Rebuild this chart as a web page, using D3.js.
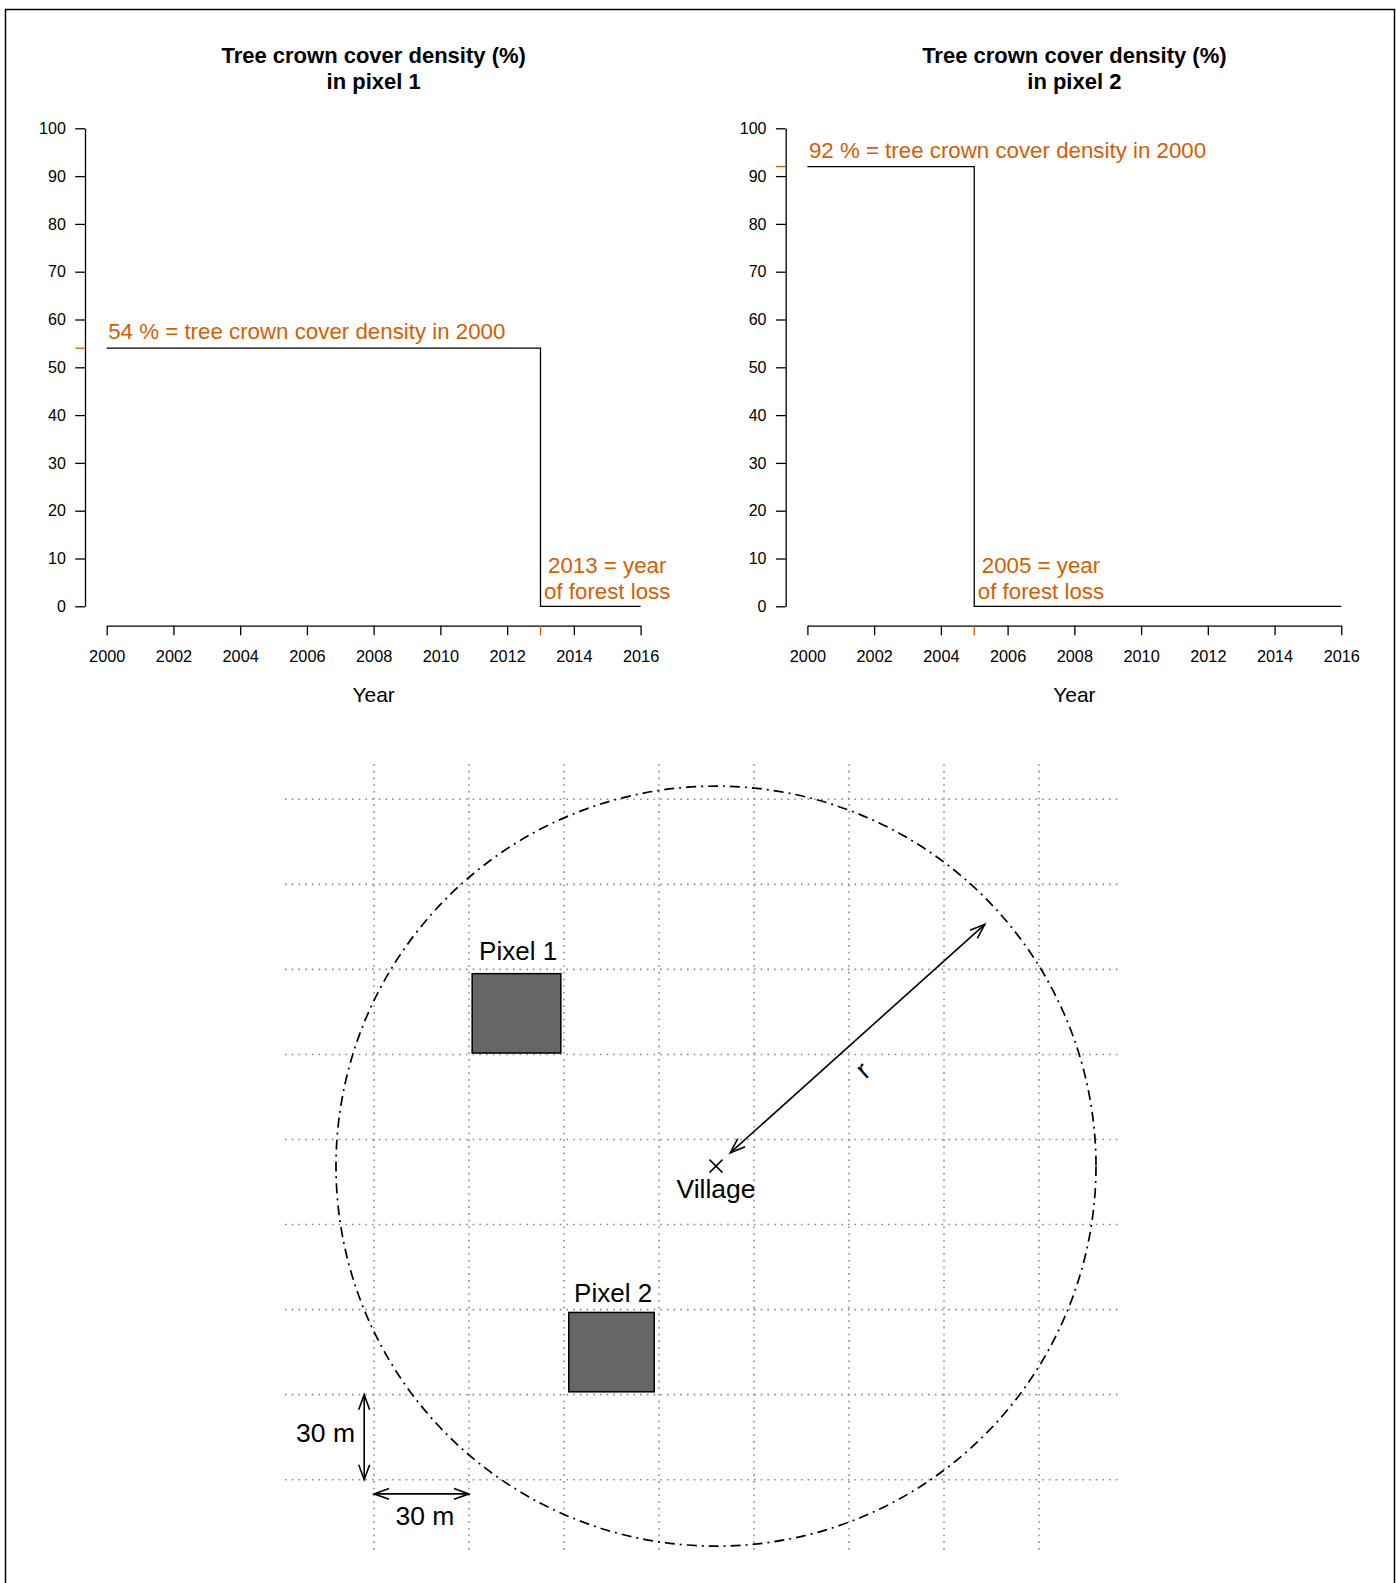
<!DOCTYPE html>
<html>
<head>
<meta charset="utf-8">
<script src="https://cdn.jsdelivr.net/npm/d3@7"></script>
<style>
  html, body { margin: 0; padding: 0; background: #fff; }
  svg { display: block; }
  text { font-family: "Liberation Sans", Arial, Helvetica, sans-serif; }
</style>
</head>
<body>
<svg id="chart" width="1396" height="1583"></svg>
<script>
// ---------- DATA ----------
const yearTicks = [2000, 2002, 2004, 2006, 2008, 2010, 2012, 2014, 2016];
const densityTicks = [0, 10, 20, 30, 40, 50, 60, 70, 80, 90, 100];

const panelTitles = [
  ["Tree crown cover density (%)", "in pixel 1"],
  ["Tree crown cover density (%)", "in pixel 2"]
];
const pixel1Years = [2000, 2013, 2013, 2016];
const pixel1Values = [54, 54, 0, 0];
const pixel2Years = [2000, 2005, 2005, 2016];
const pixel2Values = [92, 92, 0, 0];
const densityIn2000 = [54, 92];
const lossYears = [2013, 2005];
const densityLabels = ["54 % = tree crown cover density in 2000", "92 % = tree crown cover density in 2000"];
const lossLabels = [["2013 = year", "of forest loss"], ["2005 = year", "of forest loss"]];
const xAxisTitle = "Year";

// Map diagram (metres)
const gridX = [0, 30, 60, 90, 120, 150, 180, 210];
const gridY = [0, 30, 60, 90, 120, 150, 180, 210, 240];
const village = [108, 110.6];
const villageLabel = "Village";
const radius = 120;
const pixelNames = ["Pixel 1", "Pixel 2"];
const pixelRectX = [[31, 59], [61.5, 88.5]];
const pixelRectY = [[150.5, 178.5], [31, 59]];
const pixelLabelPos = [[45.5, 183.2], [75.5, 62.8]];
const radiusArrow = [[112.5, 115.3], [192.9, 195.9]];
const radiusLabel = "r";
const radiusLabelPos = [154.8, 144.0];
const scaleArrowV = [[-3.1, 30], [-3.1, 0]];
const scaleArrowH = [[0, -5], [30, -5]];
const scaleLabel = "30 m";
const scaleLabelPos = [[-15.3, 13.3], [16.1, -16.0]];

// ---------- DRAW ----------
const svg = d3.select("#chart");
const ORANGE = "#D55E00";
const FONT = '"Liberation Sans", Arial, Helvetica, sans-serif';

// outer frame
svg.append("rect").attr("x", 5.5).attr("y", 9.5).attr("width", 1389).attr("height", 1600)
  .attr("fill", "none").attr("stroke", "#000").attr("stroke-width", 1.5);

const series = [
  { years: pixel1Years, values: pixel1Values },
  { years: pixel2Years, values: pixel2Values }
];

[0, 1].forEach(i => {
  const dx = i * 700.7;
  const x = d3.scaleLinear().domain([2000, 2016]).range([106.7 + dx, 640.6 + dx]);
  const y = d3.scaleLinear().domain([0, 100]).range([606.3, 128.3]);
  const g = svg.append("g");
  const axisX = 85 + dx;

  // title
  const tx = x(2008);
  panelTitles[i].forEach((t, k) => {
    g.append("text").attr("x", tx).attr("y", 63.3 + k * 26).attr("text-anchor", "middle")
      .attr("font-size", 22).attr("font-weight", "bold").attr("fill", "#000").text(t);
  });

  // y axis
  const ya = g.append("g").attr("transform", `translate(${axisX},0)`)
    .call(d3.axisLeft(y).tickValues(densityTicks).tickSize(9.8).tickSizeOuter(0).tickPadding(9.4));
  ya.select(".domain").attr("stroke", "#000").attr("stroke-width", 1.3);
  ya.selectAll(".tick line").attr("stroke", "#000").attr("stroke-width", 1.3);
  ya.selectAll(".tick text").attr("font-size", 16).attr("font-family", FONT).attr("fill", "#000");

  // x axis
  const xa = g.append("g").attr("transform", `translate(0,625.7)`)
    .call(d3.axisBottom(x).tickValues(yearTicks).tickFormat(d3.format("d")).tickSize(9.5).tickSizeOuter(0).tickPadding(15));
  xa.select(".domain").attr("stroke", "#000").attr("stroke-width", 1.3);
  xa.selectAll(".tick line").attr("stroke", "#000").attr("stroke-width", 1.3);
  xa.selectAll(".tick text").attr("font-size", 16.3).attr("font-family", FONT).attr("fill", "#000");

  g.append("text").attr("x", x(2008)).attr("y", 701.7).attr("text-anchor", "middle")
    .attr("font-size", 21).attr("fill", "#000").text(xAxisTitle);

  // orange marker ticks
  g.append("line").attr("x1", axisX - 9.8).attr("x2", axisX).attr("y1", y(densityIn2000[i])).attr("y2", y(densityIn2000[i]))
    .attr("stroke", ORANGE).attr("stroke-width", 1.3);
  g.append("line").attr("x1", x(lossYears[i])).attr("x2", x(lossYears[i])).attr("y1", 625.7).attr("y2", 635.2)
    .attr("stroke", ORANGE).attr("stroke-width", 1.3);

  // step line
  const s = series[i];
  const pts = s.years.map((yr, k) => [x(yr), y(s.values[k])]);
  g.append("path").attr("d", d3.line()(pts)).attr("fill", "none").attr("stroke", "#000").attr("stroke-width", 1.3);

  // annotations
  g.append("text").attr("x", x(2000) + 1.5).attr("y", y(densityIn2000[i]) - 8.8)
    .attr("font-size", 22.3).attr("fill", ORANGE).text(densityLabels[i]);
  lossLabels[i].forEach((t, k) => {
    g.append("text").attr("x", x(lossYears[i] + 2)).attr("y", 573.3 + k * 25.3).attr("text-anchor", "middle")
      .attr("font-size", 22.3).attr("fill", ORANGE).text(t);
  });
});

// ---------- MAP DIAGRAM ----------
const xD = d3.scaleLinear().domain([0, 210]).range([374, 1039]);
const yD = d3.scaleLinear().domain([0, 240]).range([1479.7, 799.3]);
const plotX = [-28.1, 236.2];
const plotY = [-25.2, 252.4];
const m = svg.append("g");

// grid
gridX.forEach(v => {
  m.append("line").attr("x1", xD(v)).attr("x2", xD(v)).attr("y1", yD(plotY[1])).attr("y2", yD(plotY[0]))
    .attr("stroke", "#8a8a8a").attr("stroke-width", 1.6).attr("stroke-dasharray", "1.6,5.1");
});
gridY.forEach(v => {
  m.append("line").attr("x1", xD(plotX[0])).attr("x2", xD(plotX[1])).attr("y1", yD(v)).attr("y2", yD(v))
    .attr("stroke", "#8a8a8a").attr("stroke-width", 1.6).attr("stroke-dasharray", "1.6,5.1");
});

// circle
const rPx = xD(radius) - xD(0);
m.append("circle").attr("cx", xD(village[0])).attr("cy", yD(village[1])).attr("r", rPx)
  .attr("fill", "none").attr("stroke", "#000").attr("stroke-width", 1.7).attr("stroke-dasharray", "10,5,2,5");

// pixels
pixelNames.forEach((name, i) => {
  const x0 = xD(pixelRectX[i][0]), x1 = xD(pixelRectX[i][1]);
  const y0 = yD(pixelRectY[i][1]), y1 = yD(pixelRectY[i][0]);
  m.append("rect").attr("x", x0).attr("y", y0).attr("width", x1 - x0).attr("height", y1 - y0)
    .attr("fill", "#666666").attr("stroke", "#000").attr("stroke-width", 1.5);
  m.append("text").attr("x", xD(pixelLabelPos[i][0])).attr("y", yD(pixelLabelPos[i][1])).attr("text-anchor", "middle")
    .attr("font-size", 26).attr("fill", "#000").text(name);
});

// arrow helper (pixel coords)
function arrow(p0, p1, both) {
  m.append("line").attr("x1", p0[0]).attr("y1", p0[1]).attr("x2", p1[0]).attr("y2", p1[1])
    .attr("stroke", "#000").attr("stroke-width", 1.6);
  const head = (tip, from) => {
    const a = Math.atan2(from[1] - tip[1], from[0] - tip[0]);
    const L = 16, h = 20 * Math.PI / 180;
    const pA = [tip[0] + L * Math.cos(a + h), tip[1] + L * Math.sin(a + h)];
    const pB = [tip[0] + L * Math.cos(a - h), tip[1] + L * Math.sin(a - h)];
    m.append("path").attr("d", d3.line()([pA, tip, pB])).attr("fill", "none")
      .attr("stroke", "#000").attr("stroke-width", 1.6);
  };
  head(p1, p0);
  if (both) head(p0, p1);
}

const toPx = p => [xD(p[0]), yD(p[1])];
arrow(toPx(radiusArrow[0]), toPx(radiusArrow[1]), true);
arrow(toPx(scaleArrowV[0]), toPx(scaleArrowV[1]), true);
arrow(toPx(scaleArrowH[0]), toPx(scaleArrowH[1]), true);

// radius label rotated along arrow
const ra0 = toPx(radiusArrow[0]), ra1 = toPx(radiusArrow[1]);
const ang = Math.atan2(ra1[1] - ra0[1], ra1[0] - ra0[0]) * 180 / Math.PI;
m.append("text").attr("transform", `translate(${xD(radiusLabelPos[0])},${yD(radiusLabelPos[1])}) rotate(${ang})`)
  .attr("text-anchor", "middle").attr("dy", "0.26em").attr("font-size", 27).attr("fill", "#000").text(radiusLabel);

// village marker
const vx = xD(village[0]), vy = yD(village[1]);
m.append("path").attr("d", `M${vx - 6.5},${vy - 6.5}L${vx + 6.5},${vy + 6.5}M${vx - 6.5},${vy + 6.5}L${vx + 6.5},${vy - 6.5}`)
  .attr("stroke", "#000").attr("stroke-width", 1.5).attr("fill", "none");
m.append("text").attr("x", vx).attr("y", vy + 32).attr("text-anchor", "middle")
  .attr("font-size", 26.5).attr("fill", "#000").text(villageLabel);

// scale labels
scaleLabelPos.forEach(p => {
  m.append("text").attr("x", xD(p[0])).attr("y", yD(p[1])).attr("text-anchor", "middle")
    .attr("font-size", 26.5).attr("fill", "#000").text(scaleLabel);
});
</script>
</body>
</html>
